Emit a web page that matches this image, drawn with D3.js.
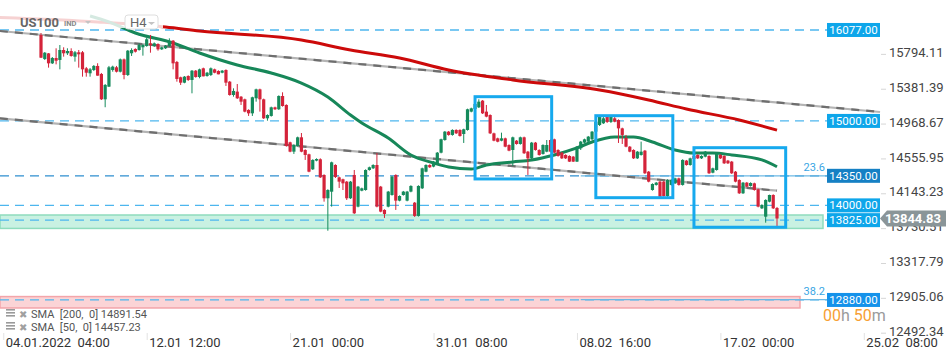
<!DOCTYPE html>
<html>
<head>
<meta charset="utf-8">
<script src="https://cdn.jsdelivr.net/npm/d3@7"></script>
<style>
  html, body { margin: 0; padding: 0; background: #fff; }
  svg { display: block; font-family: Roboto, 'Noto Sans', sans-serif; }
</style>
</head>
<body>
<svg id="chart" width="950" height="360"></svg>
<script>
// H4 candles, [open, high, low, close]
const ohlc = [
  [16018,16041,15745,15749],[15733,15816,15722,15808],[15800,15804,15631,15682],[15682,15757,15674,15745],
  [15745,15860,15670,15713],[15722,15899,15611,15840],[15840,15872,15761,15801],[15801,15860,15781,15828],
  [15828,15860,15761,15769],[15761,15828,15702,15813],[15813,15840,15631,15789],[15813,15828,15524,15611],
  [15623,15639,15524,15571],[15564,15627,15524,15611],[15603,15662,15591,15651],[15651,15683,15536,15536],
  [15556,15568,15248,15256],[15256,15437,15162,15426],[15406,15651,15402,15635],[15603,15654,15583,15643],
  [15635,15651,15574,15583],[15583,15739,15574,15729],[15729,15739,15493,15544],[15544,15840,15532,15832],
  [15801,15860,15769,15840],[15852,15860,15810,15820],[15840,15919,15832,15899],[15872,15911,15773,15899],
  [15887,15982,15879,15967],[15919,16018,15808,15899],[15887,15929,15876,15919],[15911,15919,15832,15848],
  [15848,15879,15840,15872],[15860,15899,15852,15887],[15887,15978,15879,15938],[15950,15958,15611,15682],
  [15698,15710,15465,15497],[15517,15524,15426,15453],[15453,15532,15446,15524],[15532,15540,15473,15485],
  [15485,15603,15327,15595],[15595,15603,15512,15520],[15520,15619,15505,15611],[15623,15631,15528,15528],
  [15532,15580,15524,15571],[15544,15633,15532,15623],[15611,15619,15564,15571],[15591,15600,15552,15552],
  [15571,15603,15564,15595],[15603,15611,15414,15453],[15465,15473,15299,15307],[15307,15386,15287,15355],
  [15347,15437,15260,15268],[15287,15295,15189,15228],[15256,15264,15102,15110],[15130,15138,15059,15090],
  [15090,15287,15059,15280],[15268,15382,15228,15374],[15374,15382,15110,15256],[15256,15264,15023,15031],
  [15031,15078,15003,15070],[15059,15169,15051,15161],[15161,15169,15130,15138],[15138,15303,15130,15295],
  [15295,15339,15169,15177],[15189,15197,14695,14703],[14747,14754,14629,14636],[14636,14723,14609,14715],
  [14703,14814,14695,14806],[14806,14857,14629,14636],[14656,14664,14538,14597],[14605,14612,14392,14399],
  [14427,14546,14419,14538],[14530,14557,14522,14549],[14546,14557,14324,14332],[14360,14368,14044,14084],
  [14084,14191,13700,14182],[14162,14518,13985,14510],[14478,14487,14324,14336],[14332,14340,14206,14281],
  [14309,14316,14182,14261],[14281,14289,14064,14084],[14084,14289,14076,14281],[14360,14419,13898,13906],
  [13985,14230,13977,14222],[14174,14210,14167,14202],[14182,14427,14174,14419],[14419,14459,14411,14451],
  [14439,14487,14431,14478],[14478,14620,13977,13985],[14222,14230,13918,13926],[13946,13954,13851,13898],
  [13985,14171,13977,14163],[14123,14348,14115,14340],[14360,14368,13946,14056],[14056,14119,14048,14111],
  [14123,14171,14115,14163],[14056,14171,14048,14163],[14163,14238,14155,14230],[14032,14040,13863,13875],
  [13875,14238,13867,14230],[14202,14447,14194,14439],[14399,14487,14392,14478],[14478,14487,14443,14451],
  [14459,14526,14451,14518],[14498,14632,14490,14624],[14624,14790,14616,14783],[14774,14881,14766,14873],
  [14873,14881,14825,14834],[14834,14901,14825,14893],[14893,14901,14845,14853],[14893,14901,14814,14822],
  [14845,14908,14739,14901],[14893,15145,14885,15138],[15110,15157,15102,15149],[15141,15209,15133,15201],
  [15161,15256,15153,15228],[15240,15248,15082,15090],[15110,15189,15043,15051],[15070,15078,14845,14853],
  [14853,14861,14759,14766],[14794,14802,14747,14754],[14766,14861,14759,14794],[14794,14802,14688,14695],
  [14715,14723,14641,14648],[14656,14814,14467,14806],[14766,14774,14719,14727],[14727,14814,14719,14806],
  [14806,14814,14609,14617],[14636,14644,14360,14557],[14557,14751,14549,14743],[14743,14751,14648,14656],
  [14656,14664,14589,14597],[14609,14723,14601,14715],[14636,14774,14629,14715],[14774,14782,14629,14636],
  [14782,14790,14616,14624],[14656,14664,14577,14585],[14624,14632,14549,14557],[14597,14605,14549,14557],
  [14585,14593,14514,14518],[14577,14585,14514,14518],[14518,14703,14514,14695],[14676,14763,14656,14755],
  [14743,14790,14735,14782],[14755,14822,14747,14814],[14783,14881,14774,14873],[14873,14999,14865,14991],
  [14952,15070,14940,15047],[14972,15053,14964,15031],[15047,15053,14976,14988],[14988,15053,14976,15047],
  [15031,15047,14984,14991],[15011,15019,14739,14912],[14912,14920,14727,14834],[14798,14834,14688,14695],
  [14695,14703,14629,14636],[14656,14664,14549,14557],[14557,14644,14549,14636],[14597,14755,14589,14636],
  [14648,14656,14372,14380],[14399,14407,14273,14281],[14182,14261,14174,14253],[14242,14277,14234,14269],
  [14281,14289,14080,14103],[14281,14289,14103,14111],[14111,14309,14088,14301],[14242,14309,14234,14301],
  [14261,14328,14253,14320],[14320,14328,14234,14242],[14242,14546,14234,14538],[14530,14538,14470,14478],
  [14478,14565,14470,14557],[14585,14593,14542,14549],[14597,14605,14549,14557],[14557,14593,14549,14585],
  [14577,14644,14569,14636],[14585,14593,14372,14380],[14387,14447,14380,14439],[14419,14624,14411,14616],
  [14597,14605,14549,14557],[14585,14593,14490,14498],[14530,14538,14490,14498],[14518,14526,14372,14380],
  [14399,14407,14273,14281],[14301,14309,14135,14143],[14143,14277,14135,14269],[14269,14277,14214,14222],
  [14230,14273,14222,14265],[14261,14269,14174,14182],[14190,14198,13977,13985],[13965,14013,13957,14005],
  [13866,14072,13795,14064],[14044,14127,14036,14123],[14123,14131,13957,13965],[13969,13981,13748,13844.83]
];

// moving averages, [candle index, value]
const sma200 = [[-11,16225],[15,16172],[33,16112],[42,16065],[69,15958],[82,15840],[95,15745],
  [108,15603],[125,15485],[148,15366],[161,15248],[171,15141],[185,15011],[195,14891.54]];
const sma50 = [[13,16243],[18,16172],[25,16041],[35,15923],[42,15804],[52,15662],[61,15568],
  [69,15449],[76,15284],[82,15070],[85,14976],[92,14798],[98,14597],[104,14502],[108,14455],
  [114,14431],[118,14478],[125,14514],[130,14538],[136,14597],[142,14680],[146,14751],[152,14810],
  [157,14810],[162,14751],[168,14656],[173,14620],[178,14620],[183,14597],[191,14538],[195,14457.23]];

// channel trendlines
const trendUpper = [[-10.9,16065],[222.3,15106]];
const trendLower = [[-10.9,15031],[195,14174]];

// horizontal levels
const levels = [16077, 15000, 14350, 14000, 13825, 12880];
const fibLevels = [{ name: '23.6', value: 14350 }, { name: '38.2', value: 12885 }];
const fibStart = 143;
const greenZone = [13727, 13886];
const redZone = [12785, 12920];

// highlight boxes [idxFrom, idxTo, priceTop, priceBottom]
const boxes = [[115, 135.3, 15287, 14313], [147, 167.4, 15062, 14091], [173, 197.3, 14683, 13741]];

const yTicks = [15794.11, 15381.39, 14968.67, 14555.95, 14143.23, 13730.51, 13317.79, 12905.06, 12492.34];
const xTickIdx = [-10, 28, 66, 104, 142, 180, 218];
const xTickLabels = ['04.01.2022  04:00', '12.01  12:00', '21.01  00:00', '31.01  08:00',
  '08.02  16:00', '17.02  00:00', '25.02  08:00'];

const lastPrice = 13844.83;

// svg text collapses double spaces
const keepSpaces = s => s.replace(/ /g, '\u00a0');

const svg = d3.select('#chart');
const plotRight = 880;
const labelLeft = 827;

const x = d3.scaleLinear().domain([0, ohlc.length - 1]).range([41, 777]);
const y = d3.scaleLinear().domain([12465, 16432]).range([335, 0]);

const up = '#158a5b';
const down = '#d4233a';

// zones
svg.append('rect')
  .attr('x', 0).attr('width', 823)
  .attr('y', y(greenZone[1])).attr('height', y(greenZone[0]) - y(greenZone[1]))
  .attr('fill', '#c9f1e2').attr('stroke', '#8edcbd').attr('stroke-width', 1.5);
svg.append('rect')
  .attr('x', 0).attr('width', 800)
  .attr('y', y(redZone[1])).attr('height', y(redZone[0]) - y(redZone[1]))
  .attr('fill', '#fbd4d6').attr('stroke', '#f3a5aa').attr('stroke-width', 1.5);

// level lines
svg.selectAll('line.level')
  .data(levels)
  .enter()
  .append('line')
  .attr('class', 'level')
  .attr('x1', 0).attr('x2', labelLeft)
  .attr('y1', d => y(d)).attr('y2', d => y(d))
  .attr('stroke', d => d === 14350 ? '#2f8fd0' : '#4db6ee')
  .attr('stroke-width', 1.3)
  .attr('stroke-dasharray', '9,6');

// fib lines
svg.selectAll('line.fib')
  .data(fibLevels)
  .enter()
  .append('line')
  .attr('x1', x(fibStart)).attr('x2', plotRight)
  .attr('y1', d => y(d.value)).attr('y2', d => y(d.value))
  .attr('stroke', '#6cb9e4').attr('stroke-width', 1.2);
svg.selectAll('text.fib')
  .data(fibLevels)
  .enter()
  .append('text')
  .attr('x', 825).attr('y', d => y(d.value) - 5)
  .attr('text-anchor', 'end')
  .attr('font-size', 11)
  .attr('fill', '#3aa6e4')
  .text(d => d.name);

// trendlines: light base with dark dashes on top
const trend = d3.line().x(d => x(d[0])).y(d => y(d[1]));
[trendUpper, trendLower].forEach(t => {
  svg.append('path').attr('d', trend(t)).attr('fill', 'none')
    .attr('stroke', '#b4b4b4').attr('stroke-width', 2.2);
  svg.append('path').attr('d', trend(t)).attr('fill', 'none')
    .attr('stroke', '#6e6e6e').attr('stroke-width', 2.2).attr('stroke-dasharray', '8,7');
});

// moving averages
const smaLine = d3.line().x(d => x(d[0])).y(d => y(d[1])).curve(d3.curveMonotoneX);
svg.append('path').attr('d', smaLine(sma200)).attr('fill', 'none')
  .attr('stroke', '#cc0a0a').attr('stroke-width', 3);
svg.append('path').attr('d', smaLine(sma50)).attr('fill', 'none')
  .attr('stroke', '#178759').attr('stroke-width', 3);

// candles
const candle = svg.append('g').selectAll('g')
  .data(ohlc)
  .enter()
  .append('g');
candle.append('line')
  .attr('x1', (d, i) => x(i)).attr('x2', (d, i) => x(i))
  .attr('y1', d => y(d[1])).attr('y2', d => y(d[2]))
  .attr('stroke', d => d[3] >= d[0] ? up : down)
  .attr('stroke-width', 1);
candle.append('rect')
  .attr('x', (d, i) => x(i) - 1.6)
  .attr('width', 3.2)
  .attr('y', d => y(Math.max(d[0], d[3])))
  .attr('height', d => Math.max(1, Math.abs(y(d[0]) - y(d[3]))))
  .attr('fill', d => d[3] >= d[0] ? up : down);

// highlight boxes
svg.selectAll('rect.box')
  .data(boxes)
  .enter()
  .append('rect')
  .attr('x', d => x(d[0])).attr('width', d => x(d[1]) - x(d[0]))
  .attr('y', d => y(d[2])).attr('height', d => y(d[3]) - y(d[2]))
  .attr('fill', 'none')
  .attr('stroke', '#16a9ee')
  .attr('stroke-width', 3);

// level price boxes
const lv = svg.selectAll('g.lv')
  .data(levels)
  .enter()
  .append('g');
lv.append('rect')
  .attr('x', labelLeft).attr('width', plotRight - labelLeft)
  .attr('y', d => y(d) - 7).attr('height', 14)
  .attr('fill', d => d === 14350 ? '#1580c4' : (d === 12880 ? '#1592ea' : '#0ea6ea'));
lv.append('text')
  .attr('x', (labelLeft + plotRight) / 2).attr('y', d => y(d) + 4)
  .attr('text-anchor', 'middle')
  .attr('font-size', 11.5)
  .attr('fill', '#fff')
  .text(d => d3.format('.2f')(d));

// right axis
const yAxis = svg.append('g')
  .attr('transform', `translate(${plotRight + 1},0)`)
  .call(d3.axisRight(y).tickValues(yTicks).tickSize(5).tickPadding(3).tickFormat(d3.format('.2f')));
yAxis.select('.domain').remove();
yAxis.selectAll('line').attr('stroke', '#d6d6d6');
yAxis.selectAll('text')
  .attr('dy', '0.2em')
  .attr('font-size', 13).attr('fill', '#444').attr('font-family', 'Roboto, sans-serif');

// bottom axis
const xAxis = svg.append('g')
  .attr('transform', 'translate(0,333)')
  .call(d3.axisBottom(x).tickValues(xTickIdx).tickSize(7).tickFormat((d, i) => keepSpaces(xTickLabels[i])));
xAxis.select('.domain').remove();
xAxis.selectAll('line').attr('stroke', '#e2e2e2');
xAxis.selectAll('text')
  .attr('text-anchor', 'start')
  .attr('dx', '2')
  .attr('dy', '0')
  .attr('y', 14)
  .attr('font-size', 13)
  .attr('fill', '#333')
  .attr('font-family', 'Roboto, sans-serif');

// current price tag
const py = y(lastPrice);
svg.append('path')
  .attr('d', `M${plotRight},${py} L${plotRight + 7},${py - 8} L946,${py - 8} L946,${py + 8} L${plotRight + 7},${py + 8} Z`)
  .attr('fill', '#8a9598');
svg.append('text')
  .attr('x', 913).attr('y', py + 5)
  .attr('text-anchor', 'middle')
  .attr('font-size', 13).attr('font-weight', 'bold')
  .attr('fill', '#fff')
  .text(d3.format('.2f')(lastPrice));

// countdown
const cd = svg.append('text').attr('x', 823).attr('y', 321).attr('font-size', 16);
cd.append('tspan').attr('fill', '#f7a033').text('00');
cd.append('tspan').attr('fill', '#9a9a9a').text('h\u00a0');
cd.append('tspan').attr('fill', '#f7a033').text('50');
cd.append('tspan').attr('fill', '#9a9a9a').text('m');

// legend
const legendRows = [['SMA  [200,  0]', sma200[sma200.length - 1][1]], ['SMA  [50,  0]', sma50[sma50.length - 1][1]]];
legendRows.forEach((r, i) => {
  const ly = 314 + i * 13;
  const g = svg.append('g');
  [0, 3, 6].forEach(o => g.append('rect').attr('x', 6).attr('y', ly - 5 + o).attr('width', 9).attr('height', 1.6).attr('fill', '#9a9a9a'));
  g.append('text').attr('x', 19).attr('y', ly + 3.5).attr('font-size', 10).attr('fill', '#a0a0a0').text('✖');
  g.append('text').attr('x', 31).attr('y', ly + 4).attr('font-size', 11).attr('fill', '#555')
    .text(keepSpaces(r[0] + ' ' + d3.format('.2f')(r[1])));
});

// header
svg.append('rect').attr('x', 0).attr('y', 7).attr('width', 163).attr('height', 21)
  .attr('fill', '#fff').attr('opacity', 0.82);
svg.append('text').attr('x', 20).attr('y', 27).attr('font-size', 13).attr('font-weight', 'bold')
  .attr('fill', '#666').text('US100');
svg.append('text').attr('x', 64).attr('y', 26).attr('font-size', 7.5).attr('font-weight', 'bold')
  .attr('fill', '#888').text('IND');
svg.append('path').attr('d', 'M85,21 L91,21 L88,24 Z').attr('fill', '#c4c4c4');
svg.append('rect').attr('x', 125).attr('y', 15).attr('width', 33).attr('height', 14).attr('rx', 3)
  .attr('fill', '#fff').attr('stroke', '#dedede');
svg.append('text').attr('x', 130).attr('y', 27).attr('font-size', 13).attr('fill', '#666').text('H4');
svg.append('path').attr('d', 'M148,22 L155,22 L151.5,25 Z').attr('fill', '#c4c4c4');
</script>
</body>
</html>
